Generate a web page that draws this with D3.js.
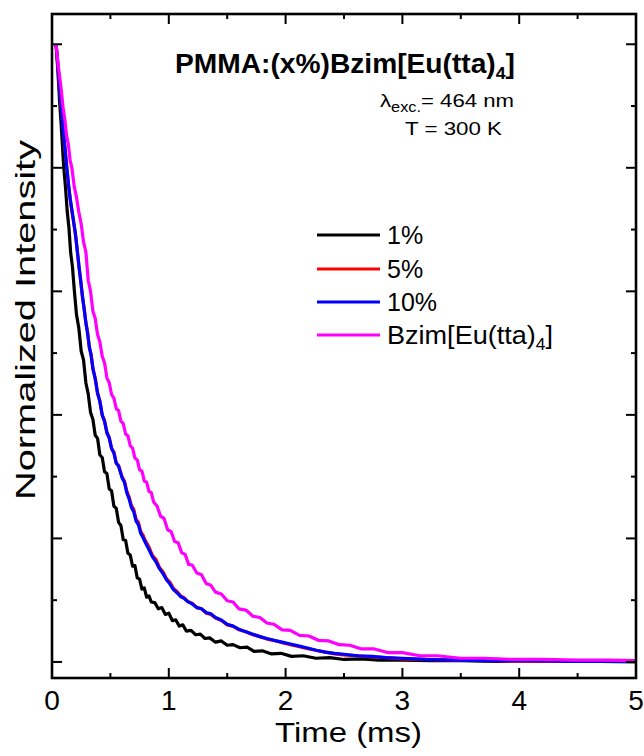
<!DOCTYPE html>
<html>
<head>
<meta charset="utf-8">
<script src="https://cdn.jsdelivr.net/npm/d3@7"></script>
<style>
  html, body { margin: 0; padding: 0; background: #fff; }
  svg { display: block; font-family: "Liberation Sans", Arial, sans-serif; }
</style>
</head>
<body>
<svg id="chart" width="644" height="756"></svg>
<script>
// Eu complex luminescence decay curves.
// Each point is [time (ms), normalized intensity].
const xTicks = [0, 1, 2, 3, 4, 5];
const xMinorTicks = [0.5, 1.5, 2.5, 3.5, 4.5];
const yTicks = [0, 0.2, 0.4, 0.6, 0.8, 1.0];
const yMinorTicks = [0.1, 0.3, 0.5, 0.7, 0.9];
const xDomain = [0, 5];
const yDomain = [-0.026, 1.049];

const seriesNames = ['1%', '5%', '10%', 'Bzim[Eu(tta)4]'];
const seriesColors = ['#000000', '#ff0000', '#0000ff', '#ff00ff'];

const decay1 = [
  [0.035,1.000],[0.05,0.958],[0.065,0.908],[0.08,0.866],[0.10,0.802],[0.115,0.770],[0.13,0.730],
  [0.145,0.703],[0.16,0.662],[0.175,0.640],[0.19,0.604],[0.21,0.562],[0.23,0.540],[0.25,0.503],
  [0.27,0.489],[0.29,0.452],[0.31,0.434],[0.33,0.404],[0.35,0.393],[0.37,0.367],[0.39,0.362],
  [0.41,0.335],[0.43,0.331],[0.45,0.308],[0.47,0.305],[0.49,0.280],[0.51,0.277],[0.53,0.252],
  [0.55,0.249],[0.57,0.226],[0.59,0.221],[0.61,0.198],[0.63,0.197],[0.65,0.176],[0.67,0.173],
  [0.69,0.155],[0.71,0.156],[0.73,0.136],[0.75,0.134],[0.77,0.118],[0.79,0.120],[0.81,0.105],
  [0.83,0.107],[0.85,0.097],[0.88,0.096],[0.91,0.086],[0.94,0.088],[0.97,0.077],[1.00,0.079],
  [1.03,0.067],[1.06,0.068],[1.09,0.058],[1.12,0.060],[1.15,0.050],[1.19,0.051],[1.23,0.044],
  [1.27,0.045],[1.31,0.038],[1.35,0.039],[1.40,0.032],[1.45,0.034],[1.50,0.027],[1.55,0.028],
  [1.61,0.023],[1.67,0.024],[1.73,0.017],[1.80,0.018],[1.88,0.013],[1.96,0.014],[2.05,0.009],
  [2.15,0.010],[2.26,0.006],[2.38,0.007],[2.50,0.004],[2.65,0.005],[2.80,0.003],[3.00,0.003],
  [3.25,0.002],[3.50,0.002],[3.80,0.001],[4.10,0.002],[4.40,0.001],[4.70,0.001],[5.00,0.000]
];

const decay5 = [
  [0.035,1.000],[0.05,0.965],[0.065,0.927],[0.08,0.895],[0.095,0.865],[0.11,0.832],[0.125,0.805],
  [0.14,0.773],[0.155,0.752],[0.17,0.729],[0.185,0.714],[0.20,0.692],[0.215,0.670],[0.23,0.640],
  [0.245,0.620],[0.26,0.591],[0.275,0.574],[0.29,0.548],[0.305,0.534],[0.32,0.508],[0.335,0.498],
  [0.35,0.474],[0.37,0.460],[0.39,0.434],[0.41,0.423],[0.43,0.399],[0.45,0.391],[0.47,0.370],
  [0.49,0.364],[0.51,0.345],[0.53,0.340],[0.55,0.322],[0.57,0.318],[0.60,0.300],[0.62,0.293],
  [0.64,0.277],[0.66,0.267],[0.68,0.253],[0.70,0.247],[0.72,0.231],[0.74,0.226],[0.76,0.211],
  [0.78,0.205],[0.80,0.196],[0.83,0.186],[0.86,0.172],[0.89,0.166],[0.92,0.153],[0.95,0.146],
  [0.98,0.135],[1.01,0.129],[1.04,0.119],[1.07,0.114],[1.10,0.107],[1.13,0.104],[1.16,0.098],
  [1.20,0.095],[1.24,0.088],[1.28,0.086],[1.32,0.079],[1.36,0.077],[1.40,0.071],[1.45,0.067],
  [1.50,0.060],[1.55,0.058],[1.60,0.052],[1.66,0.049],[1.72,0.044],[1.78,0.041],[1.84,0.037],
  [1.90,0.035],[1.97,0.031],[2.04,0.028],[2.11,0.025],[2.18,0.022],[2.26,0.019],[2.34,0.016],
  [2.42,0.013],[2.52,0.011],[2.62,0.010],[2.74,0.008],[2.86,0.007],[3.00,0.005],[3.20,0.004],
  [3.45,0.003],[3.75,0.002],[4.10,0.001],[4.50,0.001],[5.00,0.001]
];

const decay10 = [
  [0.035,1.000],[0.05,0.968],[0.065,0.930],[0.08,0.898],[0.095,0.862],[0.11,0.835],[0.125,0.802],
  [0.14,0.776],[0.155,0.750],[0.17,0.733],[0.185,0.712],[0.20,0.695],[0.215,0.667],[0.23,0.643],
  [0.245,0.617],[0.26,0.594],[0.275,0.571],[0.29,0.550],[0.305,0.531],[0.32,0.510],[0.335,0.496],
  [0.35,0.476],[0.37,0.458],[0.39,0.436],[0.41,0.421],[0.43,0.400],[0.45,0.389],[0.47,0.372],
  [0.49,0.362],[0.51,0.346],[0.53,0.338],[0.55,0.322],[0.57,0.317],[0.60,0.298],[0.62,0.291],
  [0.64,0.274],[0.66,0.264],[0.68,0.250],[0.70,0.243],[0.72,0.228],[0.74,0.222],[0.76,0.208],
  [0.78,0.201],[0.80,0.193],[0.83,0.182],[0.86,0.170],[0.89,0.162],[0.92,0.151],[0.95,0.143],
  [0.98,0.133],[1.01,0.126],[1.04,0.117],[1.07,0.112],[1.10,0.106],[1.13,0.103],[1.16,0.098],
  [1.20,0.094],[1.24,0.088],[1.28,0.086],[1.32,0.080],[1.36,0.078],[1.40,0.072],[1.45,0.068],
  [1.50,0.061],[1.55,0.058],[1.60,0.053],[1.66,0.049],[1.72,0.045],[1.78,0.041],[1.84,0.038],
  [1.90,0.035],[1.97,0.032],[2.04,0.029],[2.11,0.026],[2.18,0.023],[2.26,0.019],[2.34,0.016],
  [2.42,0.014],[2.52,0.012],[2.62,0.010],[2.74,0.009],[2.86,0.007],[3.00,0.006],[3.20,0.004],
  [3.45,0.003],[3.75,0.002],[4.10,0.002],[4.50,0.001],[5.00,0.001]
];

const decayPure = [
  [0.035,1.000],[0.05,0.972],[0.065,0.948],[0.08,0.925],[0.095,0.897],[0.11,0.878],[0.125,0.852],
  [0.14,0.838],[0.155,0.812],[0.17,0.800],[0.19,0.770],[0.21,0.752],[0.23,0.728],[0.25,0.709],
  [0.27,0.680],[0.29,0.664],[0.31,0.618],[0.33,0.600],[0.35,0.568],[0.37,0.556],[0.39,0.530],
  [0.41,0.518],[0.43,0.495],[0.45,0.484],[0.47,0.460],[0.49,0.452],[0.51,0.433],[0.53,0.427],
  [0.55,0.410],[0.57,0.407],[0.59,0.390],[0.61,0.386],[0.63,0.369],[0.65,0.366],[0.67,0.350],
  [0.69,0.346],[0.71,0.330],[0.73,0.327],[0.75,0.311],[0.77,0.309],[0.79,0.293],[0.81,0.291],
  [0.83,0.276],[0.85,0.274],[0.87,0.259],[0.90,0.252],[0.93,0.236],[0.96,0.232],[0.99,0.214],
  [1.02,0.211],[1.05,0.195],[1.08,0.193],[1.11,0.177],[1.14,0.174],[1.17,0.158],[1.20,0.157],
  [1.24,0.144],[1.28,0.141],[1.32,0.127],[1.36,0.124],[1.40,0.113],[1.45,0.110],[1.50,0.099],
  [1.55,0.097],[1.60,0.086],[1.66,0.084],[1.72,0.074],[1.78,0.072],[1.84,0.063],[1.90,0.061],
  [1.97,0.052],[2.04,0.051],[2.12,0.043],[2.20,0.042],[2.28,0.035],[2.37,0.034],[2.46,0.028],
  [2.55,0.027],[2.65,0.021],[2.76,0.021],[2.88,0.015],[3.00,0.015],[3.15,0.010],[3.30,0.010],
  [3.50,0.006],[3.70,0.006],[3.95,0.004],[4.20,0.004],[4.50,0.003],[4.75,0.003],[5.00,0.002]
];

(function () {
  const svg = d3.select('#chart');
  const L = 52, R = 636, T = 14, B = 678;

  const x = d3.scaleLinear().domain(xDomain).range([L, R]);
  const y = d3.scaleLinear().domain(yDomain).range([B, T]);

  // ---- curves ----
  const line = d3.line().x(d => x(d[0])).y(d => y(d[1]));
  const allSeries = [decay1, decay5, decay10, decayPure];
  svg.append('g').selectAll('path').data(allSeries).join('path')
    .attr('d', line)
    .attr('fill', 'none')
    .attr('stroke', (d, i) => seriesColors[i])
    .attr('stroke-width', 3.2)
    .attr('stroke-linejoin', 'round');

  // ---- frame + inward ticks on all four sides ----
  const tk = svg.append('g').attr('stroke', '#000').attr('stroke-width', 2);
  const majLen = 10, minLen = 5;
  xTicks.forEach(v => {
    tk.append('line').attr('x1', x(v)).attr('x2', x(v)).attr('y1', B).attr('y2', B - majLen);
    tk.append('line').attr('x1', x(v)).attr('x2', x(v)).attr('y1', T).attr('y2', T + majLen);
  });
  xMinorTicks.forEach(v => {
    tk.append('line').attr('x1', x(v)).attr('x2', x(v)).attr('y1', B).attr('y2', B - minLen);
    tk.append('line').attr('x1', x(v)).attr('x2', x(v)).attr('y1', T).attr('y2', T + minLen);
  });
  yTicks.forEach(v => {
    tk.append('line').attr('x1', L).attr('x2', L + majLen).attr('y1', y(v)).attr('y2', y(v));
    tk.append('line').attr('x1', R).attr('x2', R - majLen).attr('y1', y(v)).attr('y2', y(v));
  });
  yMinorTicks.forEach(v => {
    tk.append('line').attr('x1', L).attr('x2', L + minLen).attr('y1', y(v)).attr('y2', y(v));
    tk.append('line').attr('x1', R).attr('x2', R - minLen).attr('y1', y(v)).attr('y2', y(v));
  });
  svg.append('rect').attr('x', L).attr('y', T).attr('width', R - L).attr('height', B - T)
    .attr('fill', 'none').attr('stroke', '#000').attr('stroke-width', 2.6);

  // x tick labels
  svg.append('g').selectAll('text').data(xTicks).join('text')
    .attr('x', d => x(d)).attr('y', 710)
    .attr('text-anchor', 'middle').attr('font-size', 28).attr('fill', '#000')
    .text(d => d);

  // axis titles
  svg.append('text').attr('x', 275).attr('y', 742)
    .attr('font-size', 27).attr('textLength', 147).attr('lengthAdjust', 'spacingAndGlyphs')
    .text('Time (ms)');
  svg.append('text')
    .attr('transform', 'translate(35,500) rotate(-90)')
    .attr('font-size', 28).attr('textLength', 360).attr('lengthAdjust', 'spacingAndGlyphs')
    .text('Normalized Intensity');

  // ---- annotations ----
  const title = svg.append('text').attr('x', 175).attr('y', 73)
    .attr('font-size', 27).attr('font-weight', 'bold')
    .attr('textLength', 340).attr('lengthAdjust', 'spacingAndGlyphs');
  title.append('tspan').text('PMMA:(x%)Bzim[Eu(tta)');
  title.append('tspan').attr('font-size', 17).attr('dy', 6).text('4');
  title.append('tspan').attr('dy', -6).text(']');

  const lam = svg.append('text').attr('x', 380).attr('y', 107)
    .attr('font-size', 19).attr('textLength', 134).attr('lengthAdjust', 'spacingAndGlyphs');
  lam.append('tspan').text('λ');
  lam.append('tspan').attr('font-size', 14).attr('dy', 5).text('exc.');
  lam.append('tspan').attr('dy', -5).text('= 464 nm');

  svg.append('text').attr('x', 405).attr('y', 135)
    .attr('font-size', 19).attr('textLength', 97).attr('lengthAdjust', 'spacingAndGlyphs')
    .text('T = 300 K');

  // ---- legend ----
  const legY = [235, 269, 302, 335];
  const leg = svg.append('g');
  seriesNames.forEach((name, i) => {
    leg.append('line').attr('x1', 317).attr('x2', 380).attr('y1', legY[i]).attr('y2', legY[i])
      .attr('stroke', seriesColors[i]).attr('stroke-width', 3.2);
    const t = leg.append('text').attr('x', 387).attr('y', legY[i] + 9).attr('font-size', 25);
    if (name.endsWith('4]')) {
      t.attr('textLength', 166).attr('lengthAdjust', 'spacingAndGlyphs');
      t.append('tspan').text('Bzim[Eu(tta)');
      t.append('tspan').attr('font-size', 16).attr('dy', 6).text('4');
      t.append('tspan').attr('dy', -6).text(']');
    } else {
      t.text(name);
    }
  });
})();
</script>
</body>
</html>
